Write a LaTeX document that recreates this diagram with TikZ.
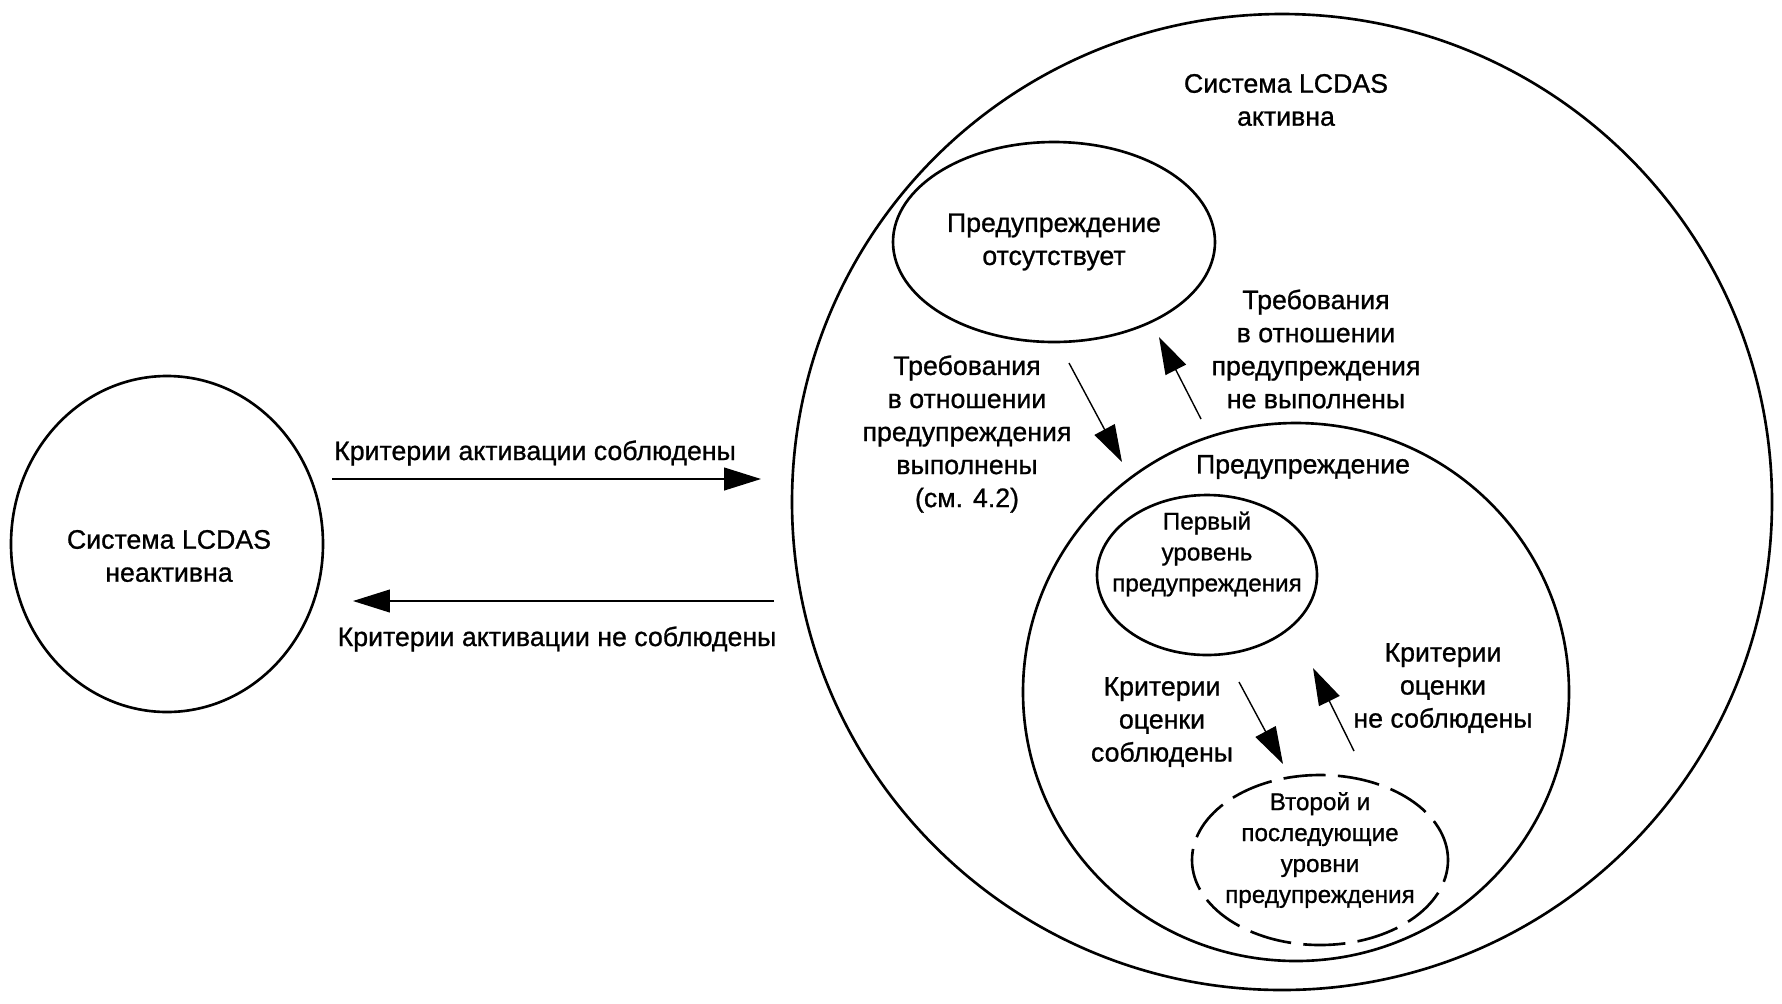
\documentclass[tikz,border=0pt]{standalone}
\usepackage{fontspec}
\setmainfont{Liberation Sans}[FakeBold=0.9]
\usetikzlibrary{arrows.meta,shapes.geometric}
\tikzstyle{statestyle}=[ellipse, draw, line width=0.75pt, inner sep=0pt]
\tikzstyle{labelstyle}=[align=center, font=\fontsize{7.6}{9.4}\selectfont\addfontfeature{FakeBold=0.9}]
\tikzstyle{levelstyle}=[align=center, font=\fontsize{6.9}{8.8}\selectfont\addfontfeature{FakeBold=0.9}]
\tikzstyle{transstyle}=[->, >={Triangle[length=10.5pt,width=6.5pt]}, line width=0.4pt]

\begin{document}
\begin{tikzpicture}[x=0.1mm, y=-0.1mm]
\useasboundingbox (0,0) rectangle (1782,1003);

% LCDAS off
\node[statestyle, minimum width=3.12cm, minimum height=3.36cm] (inactive) at (167,544) {};
\node[labelstyle] (inactivetxt) at (169,556) {Система LCDAS\\неактивна};

% LCDAS on
\node[statestyle, minimum width=9.80cm, minimum height=9.76cm] (active) at (1282,502) {};
\node[labelstyle] (activetxt) at (1286,100) {Система LCDAS\\активна};

\node[statestyle, labelstyle, minimum width=3.22cm, minimum height=2.00cm] (nowarn) at (1054,242)
	{Предупреждение\\отсутствует};

\node[statestyle, minimum width=5.46cm, minimum height=5.38cm] (warn) at (1296,692) {};
\node[labelstyle] (warntxt) at (1303,467) {Предупреждение};

% Warning levels
\node[statestyle, minimum width=2.20cm, minimum height=1.60cm] (first) at (1207,575) {};
\node[levelstyle] (firsttxt) at (1207,554) {Первый\\уровень\\предупреждения};
\node[statestyle, dash pattern=on 12pt off 3.5pt, minimum width=2.56cm, minimum height=1.70cm] (next) at (1320,860) {};
\node[levelstyle] (nexttxt) at (1320,850) {Второй и\\последующие\\уровни\\предупреждения};

% Activation arrows
\coordinate (on1) at (332,479);
\coordinate (on2) at (761,479);
\draw[transstyle] (on1) -- (on2);
\node[labelstyle] (ontxt) at (535,453) {Критерии активации соблюдены};

\coordinate (off1) at (774,601);
\coordinate (off2) at (353,601);
\draw[transstyle] (off1) -- (off2);
\node[labelstyle] (offtxt) at (557,639) {Критерии активации не соблюдены};

% Warning arrows
\coordinate (w1) at (1069,363);
\coordinate (w2) at (1122,462);
\draw[transstyle] (w1) -- (w2);
\node[labelstyle] (wtxt) at (967,434) {Требования\\в отношении\\предупреждения\\выполнены\\(см. 4.2)};

\coordinate (nw1) at (1201,419);
\coordinate (nw2) at (1159,337);
\draw[transstyle] (nw1) -- (nw2);
\node[labelstyle] (nwtxt) at (1316,349) {Требования\\в отношении\\предупреждения\\не выполнены};

% Level arrows
\coordinate (l1) at (1239,682);
\coordinate (l2) at (1283,764);
\draw[transstyle] (l1) -- (l2);
\node[labelstyle] (ltxt) at (1162,722) {Критерии\\оценки\\соблюдены};

\coordinate (nl1) at (1354,751);
\coordinate (nl2) at (1313,668);
\draw[transstyle] (nl1) -- (nl2);
\node[labelstyle] (nltxt) at (1443,688) {Критерии\\оценки\\не соблюдены};

\end{tikzpicture}
\end{document}
